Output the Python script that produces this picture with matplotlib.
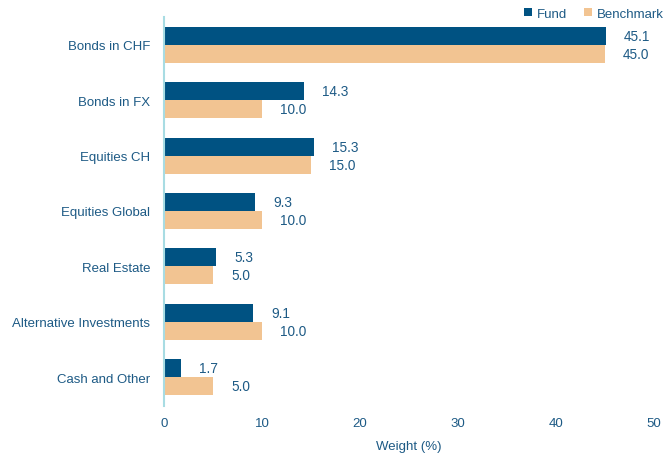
import numpy as np
import matplotlib.pyplot as plt

plt.rcParams['font.family'] = ['Liberation Sans', 'DejaVu Sans']

categories = ['Bonds in CHF', 'Bonds in FX', 'Equities CH', 'Equities Global',
              'Real Estate', 'Alternative Investments', 'Cash and Other']
fund = [45.1, 14.3, 15.3, 9.3, 5.3, 9.1, 1.7]
benchmark = [45.0, 10.0, 15.0, 10.0, 5.0, 10.0, 5.0]
xticks = [0, 10, 20, 30, 40, 50]

fund_col = '#005282'
bench_col = '#f2c492'
text_col = '#1d5a85'

fig = plt.figure(figsize=(6.7, 4.56), dpi=100)
ax = fig.add_axes([0.2448, 0.1075, 0.7312, 0.853])

y = np.arange(len(categories))
h = 0.325
ax.barh(y - h / 2, fund, height=h, color=fund_col, label='Fund')
ax.barh(y + h / 2, benchmark, height=h, color=bench_col, label='Benchmark')

# value labels right of the bars
for i in range(len(categories)):
    ax.annotate('%.1f' % fund[i], (fund[i], y[i] - h / 2), xytext=(18, 0),
                textcoords='offset pixels', va='center', ha='left',
                color=text_col, fontsize=9.8)
    ax.annotate('%.1f' % benchmark[i], (benchmark[i], y[i] + h / 2), xytext=(18, 0),
                textcoords='offset pixels', va='center', ha='left',
                color=text_col, fontsize=9.8)

ax.set_xlim(0, 50)
ax.set_ylim(len(categories) - 0.48, -0.5)
ax.set_xticks(xticks)
ax.set_yticks(y)
ax.set_yticklabels(categories)
ax.tick_params(axis='both', length=0, colors=text_col, labelsize=9.5)
ax.tick_params(axis='x', pad=8)
ax.tick_params(axis='y', pad=10)
ax.set_xlabel('Weight (%)', color=text_col, fontsize=9.5, labelpad=8)

for s in ['top', 'right', 'bottom']:
    ax.spines[s].set_visible(False)
ax.spines['left'].set_color('#a8dce3')
ax.spines['left'].set_linewidth(1.5)

ax.legend(loc='lower right', bbox_to_anchor=(1.02, 0.993), ncol=2, frameon=False,
          fontsize=9.5, handlelength=0.6, handleheight=0.6, handletextpad=0.35,
          columnspacing=1.3, borderaxespad=0, borderpad=0, labelcolor=text_col)

fig.savefig('out.png', dpi=100)
